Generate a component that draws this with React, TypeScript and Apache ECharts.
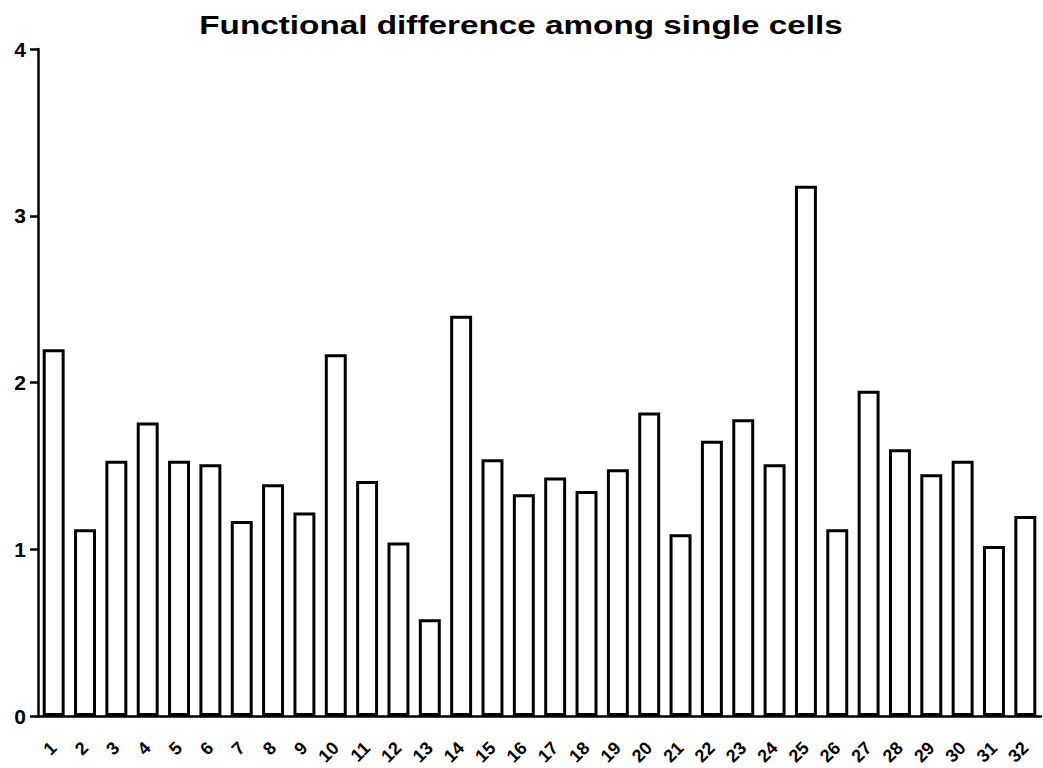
import React, { useEffect, useRef } from "react";
import * as echarts from "echarts";

const categories = Array.from({ length: 32 }, (_, i) => String(i + 1));
const values = [
  2.2, 1.12, 1.53, 1.76, 1.53, 1.51, 1.17, 1.39, 1.22, 2.17, 1.41, 1.04, 0.58, 2.4, 1.54, 1.33,
  1.43, 1.35, 1.48, 1.82, 1.09, 1.65, 1.78, 1.51, 3.18, 1.12, 1.95, 1.6, 1.45, 1.53, 1.02, 1.2,
];
const yTicks = [0, 1, 2, 3, 4];
const title = "Functional difference among single cells";

export default function App() {
  const ref = useRef<HTMLDivElement>(null);
  useEffect(() => {
    if (!ref.current) return;
    const chart = echarts.init(ref.current, null, { renderer: "svg" });
    chart.setOption({
      animation: false,
      backgroundColor: "#fff",
      graphic: [
        {
          type: "text",
          x: 521,
          y: 25,
          scaleX: 1.28,
          style: {
            text: title,
            fontFamily: "Liberation Sans",
            fontWeight: "bold",
            fontSize: 26,
            fill: "#000",
            align: "center",
            verticalAlign: "middle",
          },
        },
      ],
      grid: { left: 38, right: 2, top: 49, bottom: 52, containLabel: false },
      xAxis: {
        type: "category",
        data: categories,
        axisLine: { lineStyle: { color: "#000", width: 2.5 } },
        axisTick: { alignWithLabel: true, length: 11, lineStyle: { color: "#000", width: 2.5 } },
        axisLabel: {
          rotate: 45,
          margin: 29,
          interval: 0,
          fontFamily: "Liberation Sans",
          fontWeight: "bold",
          fontSize: 18,
          color: "#000",
        },
      },
      yAxis: {
        type: "value",
        min: yTicks[0],
        max: yTicks[yTicks.length - 1],
        interval: 1,
        splitLine: { show: false },
        axisLine: { show: true, lineStyle: { color: "#000", width: 2.5 } },
        axisTick: { show: true, length: 8, lineStyle: { color: "#000", width: 2.5 } },
        axisLabel: {
          margin: 12,
          fontFamily: "Liberation Sans",
          fontWeight: "bold",
          fontSize: 21,
          color: "#000",
        },
      },
      series: [
        {
          type: "bar",
          data: values,
          barWidth: "70%",
          itemStyle: { color: "#fff", borderColor: "#000", borderWidth: 3 },
        },
      ],
    });
    return () => chart.dispose();
  }, []);
  return (
    <div
      ref={ref}
      style={{ position: "fixed", left: 0, top: 0, width: 1043, height: 768 }}
    />
  );
}
